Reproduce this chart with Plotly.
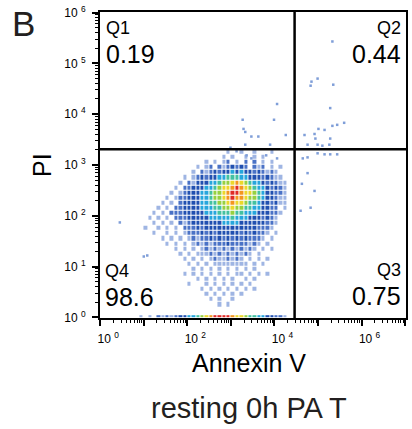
import plotly.graph_objects as go

# ---------------- data ----------------
# Density levels (0 = empty, 9 = highest) on a grid of 0.1-decade bins.
# Columns: Annexin V from 10^0.9 to 10^4.4 ; rows: PI from 10^3.3 (top) down to 10^0.2
annexin_bin_start = 0.9      # log10 of first Annexin V bin edge
pi_bin_start = 0.2           # log10 of lowest PI bin edge
bin_width = 0.1              # decades
density_rows = [
    "00000000000000000000100100100010000",
    "00000000000000000001010010101000000",
    "00000000000000010101201020201010000",
    "00000000000001012021232320212010100",
    "00000000000010212323343433232121000",
    "00000000001012323344555443332321100",
    "00000000010213334456678765443232110",
    "00000000102233344567789876544323210",
    "00000001012333445667899877654332210",
    "00000010122333445667898876654332110",
    "00000101023333445566787765543323110",
    "00001010223333444556676655443322010",
    "00010102223333344455565544433322100",
    "00101010222333334444454443332321000",
    "00010101021233333334444333333221000",
    "01001010102223233333333333322210000",
    "00010010101222323233333232322101000",
    "00000101010121223232323232221010000",
    "00000010101012121222322221210100000",
    "00000000101010121212121212101010000",
    "00000000010101112121212121010000000",
    "00000000001010101211212101010100000",
    "00000000000101010111111110101000000",
    "00000000000010101010101010100000000",
    "00000000001010101010101101010100000",
    "00000000000001010101010010100000000",
    "00000000000100010101010101000000000",
    "00000000000000101010101010100000000",
    "00000000000000010101010100000000000",
    "00000000000000001010010000000000000",
    "00000000000000000010100000000000000",
]
# events piled on the PI = 10^0 floor (same Annexin V bins)
floor_row = "10102121233445678999987765544332210"

# sparse single events (log10 Annexin V, log10 PI)
sparse_log_annexin = [5.33, 4.99, 4.85, 4.83, 5.35, 4.06, 5.28, 3.27, 3.99, 3.29, 3.33, 5.01,
                      5.15, 5.33, 5.44, 5.60, 3.47, 3.63, 4.26, 4.69, 4.92, 4.94, 5.28, 5.26,
                      3.90, 3.33, 2.99, 4.76, 4.99, 5.10, 3.13, 3.36, 3.47, 3.81, 4.06, 4.65,
                      4.76, 4.99, 5.15, 5.28, 5.44, 4.76, 4.63, 4.92, 4.83, 4.60, 0.45, 1.00,
                      1.08]
sparse_log_pi = [5.43, 4.70, 4.64, 4.56, 4.58, 4.20, 4.12, 3.89, 3.89, 3.71, 3.65, 3.71,
                 3.69, 3.77, 3.79, 3.83, 3.56, 3.56, 3.59, 3.59, 3.61, 3.52, 3.52, 3.40,
                 3.40, 3.40, 3.34, 3.40, 3.40, 3.38, 3.27, 3.19, 3.13, 3.19, 3.13, 3.13,
                 3.15, 3.23, 3.21, 3.21, 3.21, 2.84, 2.63, 2.49, 2.16, 2.10, 1.87, 1.20,
                 1.22]

gate_annexin = 29000
gate_pi = 2040
quadrant_names = ["Q1", "Q2", "Q3", "Q4"]
quadrant_pct = ["0.19", "0.44", "0.75", "98.6"]

level_colors = ["#9fb5e3", "#4a72c6", "#2150b0", "#27a6dc", "#43c1a0",
                "#97d040", "#ecd72a", "#f3961f", "#e02a26"]

# ---------------- figure ----------------
ncol = 35
rows = [r.ljust(ncol, "0")[:ncol] for r in density_rows]
annexin_edges = [10 ** (annexin_bin_start + bin_width * i) for i in range(ncol + 1)]
pi_edges = [10 ** (pi_bin_start + bin_width * j) for j in range(len(rows) + 1)]
z = [[(int(ch) if ch != "0" else None) for ch in row] for row in reversed(rows)]
z_floor = [[(int(ch) if ch != "0" else None) for ch in floor_row.ljust(ncol, "0")[:ncol]]]

colorscale = []
n = len(level_colors)
for k, c in enumerate(level_colors):
    colorscale.append([k / n, c])
    colorscale.append([(k + 1) / n, c])

fig = go.Figure()
fig.add_trace(go.Heatmap(x=annexin_edges, y=pi_edges, z=z, colorscale=colorscale,
                         zmin=0.5, zmax=9.5, showscale=False, hoverinfo="skip",
                         xgap=1, ygap=1))
fig.add_trace(go.Heatmap(x=annexin_edges, y=[10 ** 0.0, 10 ** 0.045], z=z_floor,
                         colorscale=colorscale, zmin=0.5, zmax=9.5, showscale=False,
                         hoverinfo="skip", xgap=1))
fig.add_trace(go.Scatter(x=[10 ** v for v in sparse_log_annexin],
                         y=[10 ** v for v in sparse_log_pi], mode="markers",
                         marker=dict(symbol="square", size=2.5, color="#7f9ed8", line=dict(width=0)),
                         hoverinfo="skip"))
# quadrant gates
fig.add_trace(go.Scatter(x=[gate_annexin, gate_annexin], y=[0.1, 1e7], mode="lines",
                         line=dict(color="black", width=2.5), hoverinfo="skip"))
fig.add_trace(go.Scatter(x=[0.1, 1e8], y=[gate_pi, gate_pi], mode="lines",
                         line=dict(color="black", width=2.5), hoverinfo="skip"))

FONT = "Liberation Sans, Arial, sans-serif"
dec_vals = [10 ** k for k in range(8)]
minor_vals = [m * 10 ** k for k in range(-1, 8) for m in range(2, 10)]


def dec_label(k):
    return "10\u00a0<sup>%d</sup>" % k


fig.update_xaxes(type="log", range=[-0.005, 7.02], showgrid=False, zeroline=False,
                 showline=True, linecolor="black", linewidth=2, mirror=True,
                 ticks="outside", ticklen=6, tickwidth=2, tickcolor="black",
                 tickvals=dec_vals,
                 ticktext=[dec_label(k) if k % 2 == 0 else "" for k in range(8)],
                 tickfont=dict(family=FONT, size=12, color="black"),
                 ticklabelshift=8, ticklabelstandoff=3,
                 minor=dict(ticks="outside", ticklen=3, tickwidth=1, tickcolor="black",
                            tickvals=minor_vals))
fig.update_yaxes(type="log", range=[-0.01, 6.01], showgrid=False, zeroline=False,
                 showline=True, linecolor="black", linewidth=2, mirror=True,
                 ticks="outside", ticklen=6, tickwidth=2, tickcolor="black",
                 tickvals=dec_vals[:7],
                 ticktext=[dec_label(k) for k in range(7)],
                 tickfont=dict(family=FONT, size=12, color="black"),
                 ticklabelstandoff=4,
                 minor=dict(ticks="outside", ticklen=3, tickwidth=1, tickcolor="black",
                            tickvals=minor_vals))

W, H = 412, 429
L, R, T, B = 100, 4, 9, 111
pw, ph = W - L - R, H - T - B


def px(xp):
    return (xp - L) / pw


def py(yp):
    return (H - B - yp) / ph


ann = []


def add_text(text, xp, yp, size, xanchor="center", color="black", angle=0):
    ann.append(dict(text=text, x=px(xp), y=py(yp), xref="paper", yref="paper",
                    xanchor=xanchor, yanchor="middle", showarrow=False, textangle=angle,
                    font=dict(family=FONT, size=size, color=color)))


add_text(quadrant_names[0], 104, 25, 18, "left")
add_text(quadrant_pct[0], 104, 51, 25, "left")
add_text(quadrant_names[1], 405, 25, 18, "right")
add_text(quadrant_pct[1], 405, 51, 25, "right")
add_text(quadrant_names[2], 405, 270, 18, "right")
add_text(quadrant_pct[2], 405, 295.5, 25, "right")
add_text(quadrant_names[3], 103, 271, 18, "left")
add_text(quadrant_pct[3], 103, 296.5, 25, "left")
add_text("Annexin V", 250, 363, 25)
add_text("PI", 41, 163, 25, angle=-90)
add_text("resting 0h PA T", 250, 409, 29, color="#231f20")
add_text("B", 23, 21, 35, color="#231f20")

fig.update_layout(width=W, height=H, margin=dict(l=L, r=R, t=T, b=B, pad=0),
                  paper_bgcolor="white", plot_bgcolor="white", showlegend=False,
                  annotations=ann)

fig.write_html("out.html")
